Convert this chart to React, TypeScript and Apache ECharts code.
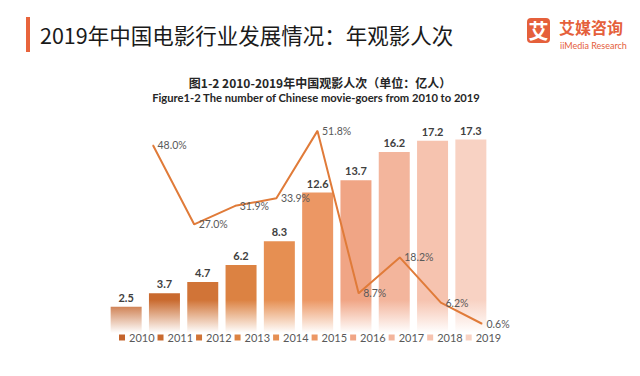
import React, { useEffect, useRef } from "react";
import * as echarts from "echarts";

const years = ["2010", "2011", "2012", "2013", "2014", "2015", "2016", "2017", "2018", "2019"];
const audience = [2.5, 3.7, 4.7, 6.2, 8.3, 12.6, 13.7, 16.2, 17.2, 17.3];
const growthYears = ["2011", "2012", "2013", "2014", "2015", "2016", "2017", "2018", "2019"];
const growth = [48.0, 27.0, 31.9, 33.9, 51.8, 8.7, 18.2, 6.2, 0.6];
const barColors = [
  "#C4642C", "#C96A2F", "#D17437", "#DC8242", "#E68F52",
  "#EC9764", "#F0A585", "#F3B59C", "#F6C3AF", "#F8D2C3",
];

const mainTitle = "2019年中国电影行业发展情况：年观影人次";
const subTitle1 = "图1-2 2010-2019年中国观影人次（单位：亿人）";
const subTitle2 = "Figure1-2 The number of Chinese movie-goers from 2010 to 2019";

export default function App() {
  const ref = useRef<HTMLDivElement>(null);
  useEffect(() => {
    if (!ref.current) return;
    const chart = echarts.init(ref.current, null, { renderer: "svg" });
    const barSeries = years.map((y, i) => ({
      type: "bar",
      name: y,
      stack: "total",
      xAxisIndex: 0,
      yAxisIndex: 0,
      barWidth: 31,
      data: years.map((_, j) => (j === i ? audience[i] : "-")),
      itemStyle: {
        color: {
          type: "linear",
          global: true,
          x: 0, y: 300, x2: 0, y2: 333,
          colorStops: [
            { offset: 0, color: barColors[i] },
            { offset: 1, color: "#FFFFFF" },
          ],
        },
      },
      label: {
        show: true,
        position: "top",
        distance: 4,
        fontFamily: "Lato, 'Noto Sans', sans-serif",
        fontWeight: "bold",
        fontSize: 11,
        color: "#404040",
        formatter: (p: any) => Number(p.value).toFixed(1),
      },
    }));
    chart.setOption({
      animation: false,
      backgroundColor: "#FFFFFF",
      grid: [
        { left: 107, width: 383, top: 109, height: 226 },
        { left: 153, width: 329, top: 100, height: 226 },
      ],
      xAxis: [
        { type: "category", gridIndex: 0, data: years, show: false },
        { type: "category", gridIndex: 1, data: growthYears, show: false, boundaryGap: false },
      ],
      yAxis: [
        { type: "value", gridIndex: 0, min: 0, max: 20, show: false },
        { type: "value", gridIndex: 1, min: 0, max: 60, show: false },
      ],
      legend: {
        left: 114,
        top: 327,
        itemWidth: 6,
        itemHeight: 6,
        itemGap: 3,
        icon: "rect",
        textStyle: { fontFamily: "Lato, 'Noto Sans', sans-serif", fontSize: 11, color: "#595959", padding: [0, 0, 0, -1] },
        data: years.map((y, i) => ({ name: y, itemStyle: { color: barColors[i] } })),
      },
      series: [
        ...barSeries,
        {
          type: "line",
          name: "growth",
          xAxisIndex: 1,
          yAxisIndex: 1,
          data: growth,
          symbol: "circle",
          symbolSize: 1,
          lineStyle: { color: "#E07B39", width: 2 },
          itemStyle: { color: "#E07B39" },
          label: {
            show: true,
            position: "right",
            distance: 4,
            fontFamily: "Lato, 'Noto Sans', sans-serif",
            fontSize: 10.5,
            color: "#595959",
            formatter: (p: any) => Number(p.value).toFixed(1) + "%",
          },
          z: 5,
        },
      ],
      graphic: [
        { type: "rect", shape: { x: 26, y: 17, width: 4, height: 35 }, style: { fill: "#E8643C" } },
        {
          type: "text", x: 40, y: 34,
          style: {
            text: mainTitle, fill: "#1A1A1A", fontSize: 21.5,
            fontFamily: "'Noto Sans CJK SC', sans-serif", verticalAlign: "middle",
          },
        },
        { type: "rect", shape: { x: 527, y: 18, width: 23, height: 25, r: 4 }, style: { fill: "#E5603B" } },
        {
          type: "text", x: 538.5, y: 30.5,
          style: {
            text: "艾", fill: "#FFFFFF", fontSize: 20, fontWeight: "bold", lineHeight: 20,
            fontFamily: "'Noto Sans CJK SC', sans-serif", align: "center", verticalAlign: "middle",
          },
        },
        {
          type: "text", x: 559, y: 27,
          style: {
            text: "艾媒咨询", fill: "#E5603B", fontSize: 16, fontWeight: "bold", lineHeight: 16,
            fontFamily: "'Noto Sans CJK SC', sans-serif", verticalAlign: "middle",
          },
        },
        {
          type: "text", x: 560, y: 45,
          style: {
            text: "iiMedia Research", fill: "#E5603B", fontSize: 9, lineHeight: 9,
            fontFamily: "Lato, 'Noto Sans', sans-serif", verticalAlign: "middle",
          },
        },
        {
          type: "text", x: 320, y: 82,
          style: {
            text: subTitle1, fill: "#262626", fontSize: 12, fontWeight: "bold",
            fontFamily: "'Noto Sans CJK SC', sans-serif", align: "center", verticalAlign: "middle",
          },
        },
        {
          type: "text", x: 316, y: 97,
          style: {
            text: subTitle2, fill: "#262626", fontSize: 11.2, fontWeight: "bold",
            fontFamily: "Lato, 'Noto Sans', sans-serif", align: "center", verticalAlign: "middle",
          },
        },
      ],
    });
    return () => chart.dispose();
  }, []);
  return (
    <div
      ref={ref}
      style={{ position: "fixed", left: 0, top: 0, width: 640, height: 376, background: "#fff" }}
    />
  );
}
